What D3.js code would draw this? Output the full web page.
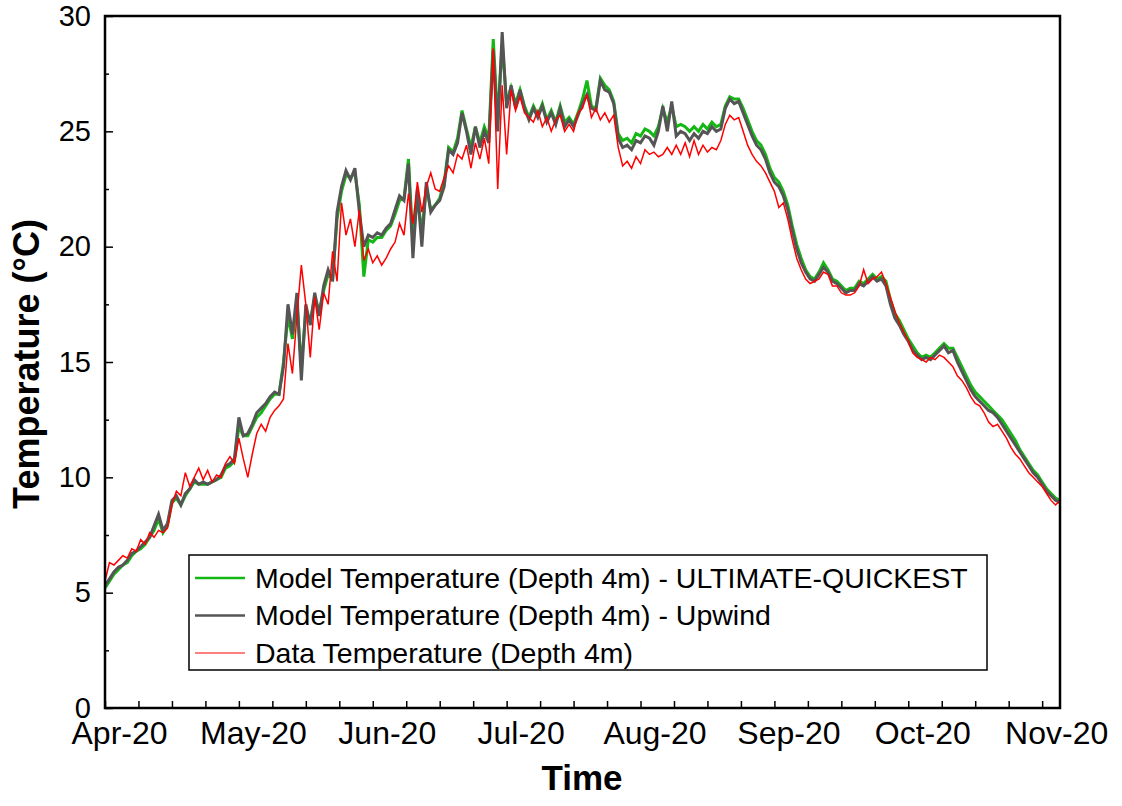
<!DOCTYPE html>
<html>
<head>
<meta charset="utf-8">
<script src="https://cdn.jsdelivr.net/npm/d3@7"></script>
<style>
  body { margin: 0; background: #fff; }
  text { font-family: Arial, "Liberation Sans", sans-serif; }
</style>
</head>
<body>
<div id="chart"></div>
<script>
// daily values, day 0 = first day of the record (Apr-20)
var quickest = [
  5.2, 5.5, 5.8, 6.0, 6.2, 6.3, 6.6, 6.8, 6.9, 7.1,
  7.4, 7.7, 8.2, 7.6, 7.9, 8.9, 9.1, 8.8, 9.2, 9.5,
  9.8, 9.7, 9.7, 9.7, 9.8, 9.9, 10.0, 10.4, 10.5, 10.7,
  12.2, 11.8, 11.8, 12.2, 12.6, 12.8, 13.1, 13.4, 13.6, 13.6,
  15.0, 17.0, 16.0, 17.6, 14.8, 17.2, 16.8, 17.8, 17.2, 18.1,
  18.8, 18.6, 21.2, 22.4, 23.1, 23.0, 23.2, 21.8, 18.7, 20.3,
  20.2, 20.4, 20.4, 20.7, 20.9, 21.4, 22.0, 22.1, 23.8, 20.2,
  22.2, 20.6, 22.6, 21.6, 21.8, 22.1, 22.8, 24.3, 24.1, 24.7,
  25.9, 25.1, 24.3, 25.2, 24.5, 25.2, 24.7, 29.0, 25.5, 28.8,
  26.2, 26.9, 26.2, 26.8, 26.1, 25.6, 26.1, 25.7, 26.2, 25.5,
  25.9, 25.4, 26.1, 25.4, 25.6, 25.3, 25.8, 26.4, 27.2, 26.1,
  26.0, 27.3, 27.0, 26.8, 26.3, 24.9, 24.6, 24.7, 24.5, 24.9,
  24.8, 25.1, 25.0, 24.8, 25.2, 26.0, 25.4, 26.1, 25.2, 25.3,
  25.2, 25.0, 25.2, 25.0, 25.3, 25.1, 25.4, 25.2, 25.3, 26.1,
  26.5, 26.4, 26.4, 26.0, 25.5, 25.0, 24.6, 24.4, 24.0, 23.4,
  23.0, 22.8, 22.4, 21.8, 20.9, 20.1, 19.5, 19.0, 18.7, 18.6,
  18.9, 19.3, 19.0, 18.6, 18.5, 18.3, 18.1, 18.2, 18.2, 18.5,
  18.4, 18.6, 18.8, 18.6, 18.7, 18.5, 17.7, 17.1, 16.8, 16.4,
  16.0, 15.7, 15.4, 15.2, 15.3, 15.2, 15.4, 15.6, 15.8, 15.6,
  15.6, 15.2, 14.8, 14.4, 14.0, 13.7, 13.5, 13.3, 13.1, 12.9,
  12.7, 12.5, 12.2, 11.9, 11.6, 11.2, 10.9, 10.6, 10.3, 10.1,
  9.8, 9.5, 9.3, 9.1, 9.0
];
var upwind = [
  5.3, 5.6, 5.9, 6.1, 6.2, 6.4, 6.7, 6.8, 7.0, 7.2,
  7.4, 7.9, 8.4, 7.7, 8.0, 9.0, 9.2, 8.8, 9.3, 9.5,
  9.9, 9.7, 9.8, 9.7, 9.8, 9.9, 10.1, 10.5, 10.6, 10.8,
  12.6, 11.8, 11.9, 12.3, 12.8, 13.0, 13.2, 13.5, 13.7, 13.6,
  14.8, 17.5, 16.2, 18.0, 14.2, 17.5, 16.6, 18.0, 17.0, 18.3,
  19.0, 18.5, 21.5, 22.6, 23.3, 22.9, 23.4, 21.5, 20.0, 20.5,
  20.4, 20.6, 20.5, 20.8, 21.0, 21.6, 22.2, 22.0, 23.6, 19.5,
  22.5, 20.0, 22.8, 21.5, 21.8, 22.0, 22.6, 24.2, 24.0, 24.5,
  25.8, 25.0, 24.0, 25.2, 24.3, 25.0, 24.5, 28.5, 25.0, 29.3,
  26.0, 27.0, 26.0, 26.8, 26.0, 25.5, 26.0, 25.6, 26.1, 25.4,
  25.8, 25.3, 26.0, 25.2, 25.5, 25.2, 25.7, 26.2, 26.6, 26.0,
  25.9, 27.2, 26.8, 26.7, 26.2, 24.7, 24.3, 24.4, 24.2, 24.6,
  24.5, 24.8, 24.7, 24.4, 25.0, 26.1, 25.0, 26.3, 24.8, 25.0,
  24.9, 24.6, 24.9, 24.7, 25.0, 24.9, 25.2, 25.0, 25.1, 26.0,
  26.4, 26.2, 26.3, 25.8, 25.3, 24.8, 24.4, 24.2, 23.8, 23.2,
  22.8, 22.6, 22.2, 21.6, 20.7, 19.9, 19.3, 18.9, 18.6, 18.5,
  18.8, 19.1, 18.9, 18.5, 18.4, 18.2, 18.0, 18.1, 18.1, 18.4,
  18.3, 18.5, 18.7, 18.5, 18.6, 18.3, 17.5, 16.9, 16.6, 16.2,
  15.9, 15.5, 15.3, 15.1, 15.2, 15.1, 15.3, 15.5, 15.7, 15.4,
  15.5, 15.0, 14.6, 14.2, 13.8, 13.5, 13.3, 13.1, 12.9, 12.8,
  12.6, 12.3, 12.0, 11.7, 11.4, 11.1, 10.8, 10.5, 10.2, 10.0,
  9.7, 9.4, 9.2, 9.0, 8.9
];
var measured = [
  5.5, 6.3, 6.2, 6.4, 6.6, 6.5, 6.9, 6.8, 7.3, 7.1,
  7.6, 7.4, 7.7, 7.6, 7.8, 8.8, 9.4, 9.2, 10.2, 9.6,
  10.0, 10.4, 9.9, 10.3, 9.8, 10.1, 10.0, 10.6, 10.9, 10.6,
  11.7, 10.8, 10.0, 11.0, 11.9, 12.3, 12.0, 12.6, 12.9, 13.1,
  13.4, 15.8, 14.5, 17.0, 19.2, 17.5, 15.2, 17.8, 16.4, 18.0,
  17.5, 19.8, 18.5, 21.9, 20.5, 21.2, 20.0, 21.6, 19.4, 19.9,
  19.3, 19.6, 19.2, 19.5, 19.9, 20.2, 21.0, 20.5, 22.3, 21.0,
  22.8, 21.5, 22.6, 23.2, 22.5, 22.4, 23.0, 23.5, 23.2, 24.0,
  23.8, 24.4, 23.4, 24.5, 23.8, 24.7, 23.6, 28.6, 22.5, 27.0,
  24.0, 26.8, 25.9, 26.5, 25.8, 25.6, 25.4, 25.9, 25.2, 25.6,
  25.0, 25.5, 25.7, 25.0, 25.3, 25.0, 25.8, 26.0, 26.6, 25.6,
  26.0, 25.5, 25.8, 25.4, 25.7, 24.3, 23.5, 23.7, 23.4, 23.9,
  23.6, 24.2, 24.0, 24.1, 23.9, 24.0, 24.3, 24.0, 24.4, 24.0,
  24.5, 23.9, 24.6, 24.0, 24.4, 24.1, 24.3, 24.2, 24.6, 25.3,
  25.7, 25.5, 25.6, 25.0, 24.4, 24.0, 23.7, 23.5, 23.2, 22.8,
  22.4, 21.7, 21.9, 21.2, 20.3, 19.5, 19.0, 18.6, 18.4, 18.5,
  18.6, 18.9, 18.8, 18.3, 18.3, 18.0, 17.9, 17.9, 18.0, 18.3,
  19.0, 18.4, 18.6, 18.7, 18.9, 18.4, 17.8, 17.2, 16.7, 16.3,
  15.9, 15.4, 15.2, 15.1, 15.0, 15.2, 15.1, 15.3, 15.2, 15.0,
  14.8, 14.4, 14.2, 13.9, 13.5, 13.2, 13.1, 12.8, 12.4, 12.2,
  12.3, 12.0, 11.7, 11.3, 11.0, 10.8, 10.5, 10.2, 10.0, 9.8,
  9.6, 9.3, 9.0, 8.8, 9.0
];
var xTickLabels = ['Apr-20', 'May-20', 'Jun-20', 'Jul-20', 'Aug-20', 'Sep-20', 'Oct-20', 'Nov-20'];
var yTicks = [0, 5, 10, 15, 20, 25, 30];
var seriesNames = [
  'Model Temperature (Depth 4m) - ULTIMATE-QUICKEST',
  'Model Temperature (Depth 4m) - Upwind',
  'Data Temperature (Depth 4m)'
];

var width = 1122, height = 806;
var margin = {left: 105, right: 62, top: 16, bottom: 98};

var svg = d3.select('#chart').append('svg')
    .attr('width', width)
    .attr('height', height);

var x = d3.scaleLinear().domain([0, 214]).range([margin.left, width - margin.right]);
var y = d3.scaleLinear().domain([0, 30]).range([height - margin.bottom, margin.top]);

// series, drawn green -> grey -> red so red sits on top
var series = [
  {name: seriesNames[0], values: quickest, color: '#14b814', width: 3},
  {name: seriesNames[1], values: upwind, color: '#555555', width: 3},
  {name: seriesNames[2], values: measured, color: '#ff0000', width: 1.5}
];

svg.append('clipPath').attr('id', 'plot-clip')
  .append('rect')
    .attr('x', x(0)).attr('y', y(30))
    .attr('width', x(214) - x(0)).attr('height', y(0) - y(30));

var line = d3.line()
    .x(function (d, i) { return x(i); })
    .y(function (d) { return y(d); });

svg.append('g').attr('clip-path', 'url(#plot-clip)')
  .selectAll('path')
  .data(series)
  .enter().append('path')
    .attr('fill', 'none')
    .attr('stroke', function (d) { return d.color; })
    .attr('stroke-width', function (d) { return d.width; })
    .attr('stroke-linejoin', 'miter')
    .attr('d', function (d) { return line(d.values); });

// axes
var xMinor = d3.axisBottom(x).tickValues(d3.range(0, 214, 7.5)).tickSize(-7).tickFormat('');
svg.append('g').attr('transform', 'translate(0,' + y(0) + ')').call(xMinor)
  .call(function (g) { g.select('.domain').remove(); })
  .selectAll('line').attr('stroke', '#000').attr('stroke-width', 1.5);

var xLabels = d3.axisBottom(x)
    .tickValues(xTickLabels.map(function (d, i) { return i * 30; }))
    .tickSize(0)
    .tickFormat(function (d, i) { return xTickLabels[i]; });
svg.append('g').attr('transform', 'translate(0,' + y(0) + ')').call(xLabels)
  .call(function (g) { g.select('.domain').remove(); })
  .selectAll('text')
    .attr('dx', 14).attr('dy', 0).attr('y', 36)
    .attr('fill', '#000')
    .style('font-size', '32px')
    .style('font-family', 'Arial, "Liberation Sans", sans-serif');

var yMinor = d3.axisLeft(y).tickValues(d3.range(2.5, 30, 5)).tickSize(-4).tickFormat('');
svg.append('g').attr('transform', 'translate(' + x(0) + ',0)').call(yMinor)
  .call(function (g) { g.select('.domain').remove(); })
  .selectAll('line').attr('stroke', '#000').attr('stroke-width', 1.5);

var yMajor = d3.axisLeft(y).tickValues(yTicks).tickSize(-8).tickPadding(14).tickFormat(d3.format('d'));
svg.append('g').attr('transform', 'translate(' + x(0) + ',0)').call(yMajor)
  .call(function (g) { g.select('.domain').remove(); })
  .call(function (g) { g.selectAll('line').attr('stroke', '#000').attr('stroke-width', 1.5); })
  .selectAll('text')
    .attr('fill', '#000')
    .style('font-size', '29px')
    .style('font-family', 'Arial, "Liberation Sans", sans-serif');

// frame
svg.append('rect')
    .attr('x', x(0)).attr('y', y(30))
    .attr('width', x(214) - x(0)).attr('height', y(0) - y(30))
    .attr('fill', 'none').attr('stroke', '#000').attr('stroke-width', 2.5);

// axis titles
svg.append('text')
    .attr('x', 582).attr('y', 790)
    .attr('text-anchor', 'middle')
    .style('font-size', '35px').style('font-weight', 'bold')
    .text('Time');

svg.append('text')
    .attr('transform', 'translate(39,' + (y(15) + 2) + ') rotate(-90)')
    .attr('text-anchor', 'middle')
    .style('font-size', '36px').style('font-weight', 'bold')
    .text('Temperature (°C)');

// legend
var legend = svg.append('g').attr('transform', 'translate(189,555)');
legend.append('rect')
    .attr('width', 798).attr('height', 115)
    .attr('fill', '#fff').attr('stroke', '#000').attr('stroke-width', 1.5);

var items = legend.selectAll('g.item')
    .data(series)
    .enter().append('g')
    .attr('class', 'item')
    .attr('transform', function (d, i) { return 'translate(0,' + (23 + i * 37.5) + ')'; });

items.append('line')
    .attr('x1', 6).attr('x2', 56)
    .attr('stroke', function (d) { return d.color; })
    .attr('stroke-width', function (d, i) { return i === 2 ? 1.2 : 2.5; });

items.append('text')
    .attr('x', 66).attr('y', 0).attr('dy', '0.35em')
    .style('font-size', '28.5px')
    .text(function (d) { return d.name; });
</script>
</body>
</html>
